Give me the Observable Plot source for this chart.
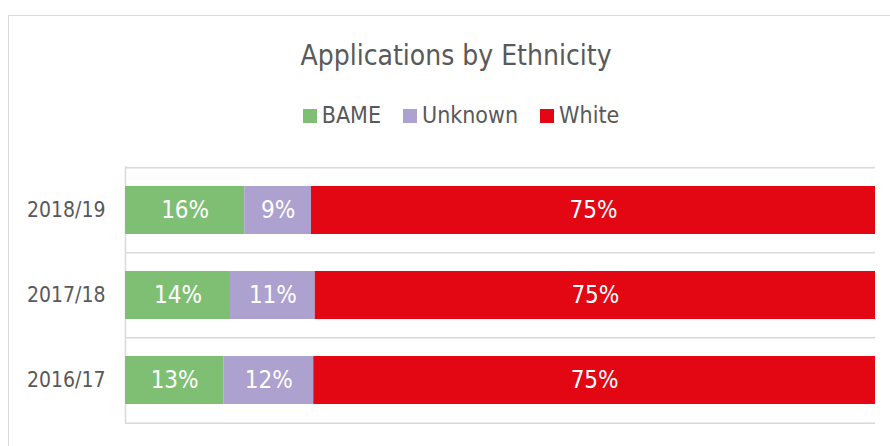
<!DOCTYPE html>
<html>
<head>
<meta charset="utf-8">
<script src="https://cdn.jsdelivr.net/npm/d3@7"></script>
<script src="https://cdn.jsdelivr.net/npm/@observablehq/plot@0.6"></script>
<style>
  html, body { margin: 0; padding: 0; background: #fff; overflow: hidden; width: 890px; height: 446px; }
  body { position: relative; font-family: "DejaVu Sans Condensed", "DejaVu Sans", sans-serif; }
  #frame { position: absolute; left: 8px; top: 15px; width: 900px; height: 500px; border: 1.5px solid #d9d9d9; box-sizing: border-box; }
  #title { position: absolute; left: 0; width: 912px; top: 42px; text-align: center; font-size: 28px; line-height: 28px; color: #595959; white-space: nowrap; }
  #legend { position: absolute; left: 0; width: 922px; top: 104px; display: flex; justify-content: center; align-items: center; font-size: 23px; line-height: 23px; color: #595959; white-space: nowrap; }
  .item { display: flex; align-items: center; margin: 0 11px; }
  .sw { width: 14px; height: 14px; margin-right: 5px; display: inline-block; }
  #chart { position: absolute; left: 0; top: 140px; }
</style>
</head>
<body>
<div id="frame"></div>
<div id="title">Applications by Ethnicity</div>
<div id="legend"></div>
<div id="chart"></div>
<script>
const years = ["2018/19", "2017/18", "2016/17"];
const groups = ["BAME", "Unknown", "White"];
const colors = ["#7fbf74", "#ada1d0", "#e30613"];
const bame = [15.9, 14.0, 13.1];
const unknown = [8.9, 11.3, 12.0];
const white = [75.2, 74.7, 74.9];

const seriesValues = [bame, unknown, white];
const data = [];
groups.forEach((g, gi) => {
  years.forEach((y, yi) => data.push({year: y, group: g, value: seriesValues[gi][yi]}));
});

// legend
const legend = document.getElementById("legend");
groups.forEach((g, i) => {
  const it = document.createElement("div");
  it.className = "item";
  it.innerHTML = `<span class="sw" style="background:${colors[i]}"></span><span>${g}</span>`;
  legend.appendChild(it);
});

const H = 306;
const plot = Plot.plot({
  width: 890,
  height: H,
  marginLeft: 125,
  marginRight: 15,
  marginTop: 26,
  marginBottom: 23,
  style: { fontFamily: '"DejaVu Sans Condensed", "DejaVu Sans", sans-serif', background: "transparent", overflow: "visible" },
  x: { domain: [0, 100], axis: null },
  y: { domain: years, paddingInner: 0.44, paddingOuter: 0.22, label: null, tickSize: 0, tickPadding: 20 },
  color: { domain: groups, range: colors },
  marks: [
    Plot.ruleY(years, { y: d => d, dy: -42.8, stroke: "#d9d9d9", strokeWidth: 1.5 }),
    Plot.ruleY([years[years.length - 1]], { y: d => d, dy: 42.8, stroke: "#d9d9d9", strokeWidth: 1.5 }),
    Plot.ruleX([0], { stroke: "#d9d9d9", strokeWidth: 1.5 }),
    Plot.barX(data, Plot.stackX({ x: "value", y: "year", z: "group", fill: "group", order: groups })),
    Plot.text(data, Plot.stackX({ x: "value", y: "year", z: "group", order: groups, text: d => Math.round(d.value) + "%", fill: "white", fontSize: 24 })),
    Plot.axisY({ tickSize: 0, tickPadding: 20, fontSize: 21, color: "#595959", label: null })
  ]
});
document.getElementById("chart").appendChild(plot);
</script>
</body>
</html>
